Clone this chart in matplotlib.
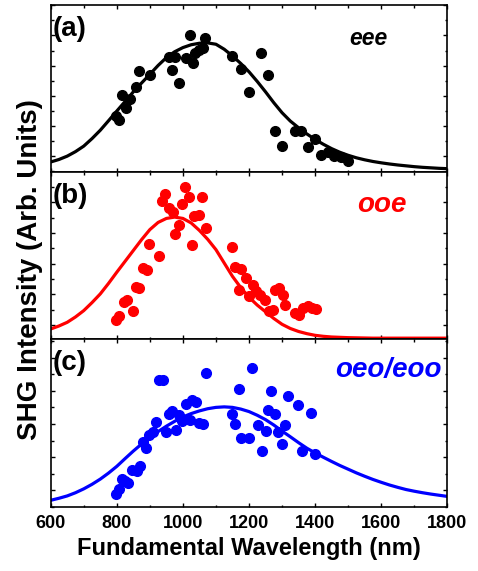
import matplotlib
matplotlib.use("Agg")
import matplotlib.pyplot as plt
from matplotlib.ticker import MultipleLocator

plt.rcParams['font.family'] = ['Liberation Sans', 'DejaVu Sans']
plt.rcParams['font.weight'] = 'bold'

# ---------------- data (wavelength in nm, intensity in arb. units, 0..1 of panel) ----
# panel (a) eee
wl_a = [799, 807, 827, 817, 840, 858, 868, 901, 959, 977, 967, 989, 1010, 1020,
        1030, 1038, 1050, 1060, 1068, 1149, 1177, 1200, 1237, 1259, 1278, 1301,
        1338, 1358, 1378, 1399, 1419, 1439, 1458, 1478, 1500]
int_a = [0.337, 0.313, 0.382, 0.462, 0.440, 0.510, 0.602, 0.578, 0.690, 0.687,
         0.612, 0.532, 0.685, 0.821, 0.655, 0.715, 0.731, 0.741, 0.805, 0.693,
         0.614, 0.482, 0.711, 0.582, 0.243, 0.157, 0.243, 0.243, 0.149, 0.197,
         0.104, 0.120, 0.094, 0.088, 0.066]

# panel (b) ooe
wl_b = [799, 807, 822, 832, 848, 858, 868, 878, 890, 898, 929, 937, 947, 957, 969,
        977, 989, 997, 1007, 1018, 1028, 1035, 1048, 1058, 1070, 1149, 1159, 1177,
        1170, 1191, 1200, 1212, 1222, 1232, 1247, 1260, 1272, 1280, 1292, 1302,
        1310, 1338, 1351, 1363, 1378, 1391, 1402]
int_b = [0.115, 0.135, 0.221, 0.235, 0.165, 0.310, 0.306, 0.423, 0.414, 0.567,
         0.497, 0.829, 0.869, 0.783, 0.759, 0.628, 0.682, 0.809, 0.913, 0.849,
         0.563, 0.738, 0.740, 0.849, 0.664, 0.551, 0.432, 0.418, 0.296, 0.366,
         0.256, 0.326, 0.290, 0.262, 0.235, 0.169, 0.175, 0.296, 0.306, 0.262,
         0.201, 0.155, 0.141, 0.185, 0.195, 0.185, 0.179]

# panel (c) oeo/eoo
wl_c = [799, 807, 815, 826, 833, 846, 860, 870, 878, 888, 898, 910, 918, 929, 941,
        949, 957, 967, 979, 988, 998, 1008, 1020, 1028, 1040, 1048, 1060, 1070,
        1149, 1159, 1169, 1176, 1200, 1208, 1228, 1238, 1250, 1258, 1268, 1280,
        1288, 1300, 1308, 1318, 1348, 1361, 1389, 1399]
int_c = [0.075, 0.105, 0.164, 0.154, 0.144, 0.223, 0.213, 0.243, 0.387, 0.352,
         0.427, 0.447, 0.506, 0.753, 0.753, 0.445, 0.553, 0.573, 0.460, 0.549,
         0.514, 0.613, 0.520, 0.638, 0.623, 0.500, 0.496, 0.800, 0.553, 0.494,
         0.702, 0.411, 0.411, 0.826, 0.490, 0.332, 0.451, 0.579, 0.692, 0.553,
         0.445, 0.375, 0.490, 0.662, 0.609, 0.332, 0.559, 0.318]

# fitted curves, every 25 nm
fit_wl = [600, 625, 650, 675, 700, 725, 750, 775, 800, 825, 850, 875, 900, 925,
          950, 975, 1000, 1025, 1050, 1075, 1100, 1125, 1150, 1175, 1200, 1225,
          1250, 1275, 1300, 1325, 1350, 1375, 1400, 1425, 1450, 1475, 1500, 1525,
          1550, 1575, 1600, 1625, 1650, 1675, 1700, 1725, 1750, 1775, 1800]
fit_a = [0.060, 0.075, 0.095, 0.122, 0.155, 0.200, 0.250, 0.307, 0.365, 0.422,
         0.480, 0.533, 0.585, 0.638, 0.685, 0.720, 0.745, 0.762, 0.771, 0.773,
         0.765, 0.735, 0.695, 0.650, 0.600, 0.542, 0.480, 0.415, 0.355, 0.305,
         0.265, 0.228, 0.195, 0.166, 0.140, 0.118, 0.100, 0.085, 0.073, 0.063,
         0.055, 0.048, 0.042, 0.037, 0.032, 0.028, 0.025, 0.022, 0.020]
fit_b = [0.060, 0.078, 0.100, 0.132, 0.170, 0.218, 0.270, 0.333, 0.400, 0.465,
         0.530, 0.595, 0.655, 0.698, 0.722, 0.730, 0.722, 0.695, 0.650, 0.597,
         0.535, 0.455, 0.375, 0.308, 0.250, 0.203, 0.163, 0.123, 0.088, 0.063,
         0.045, 0.032, 0.022, 0.016, 0.012, 0.010, 0.008, 0.007, 0.006, 0.005,
         0.005, 0.005, 0.005, 0.005, 0.005, 0.005, 0.005, 0.005, 0.005]
fit_c = [0.040, 0.052, 0.066, 0.085, 0.108, 0.135, 0.166, 0.202, 0.242, 0.288,
         0.333, 0.375, 0.414, 0.449, 0.481, 0.510, 0.536, 0.556, 0.572, 0.585,
         0.593, 0.596, 0.593, 0.583, 0.568, 0.546, 0.520, 0.488, 0.452, 0.418,
         0.383, 0.350, 0.322, 0.296, 0.271, 0.247, 0.225, 0.203, 0.183, 0.164,
         0.147, 0.131, 0.117, 0.104, 0.094, 0.085, 0.077, 0.070, 0.063]

panel_labels = ['(a)', '(b)', '(c)']
mode_labels = ['eee', 'ooe', 'oeo/eoo']
colors = ['black', '#ff0000', '#0000ff']
xticks = [600, 800, 1000, 1200, 1400, 1600, 1800]

# ---------------- figure ----------------
W, H = 478, 571
fig = plt.figure(figsize=(W / 100, H / 100), dpi=100)

left = 50.7 / W
width = (447.3 - 50.7) / W
bounds_px = [(5, 172), (172, 339), (339, 507)]
# minor tick spacing / offset (fraction of panel) per panel
tick_info = [(0.0905, 0.0035), (0.0917, -0.0072), (0.0988, 0.0)]
mode_size = [16.5, 20, 20]
mode_x = [388, 407, 442]
mode_base = [45, 212, 377]

wls = [wl_a, wl_b, wl_c]
ints = [int_a, int_b, int_c]
fits = [fit_a, fit_b, fit_c]

for i, (t, b) in enumerate(bounds_px):
    ax = fig.add_axes([left, 1 - b / H, width, (b - t) / H])
    ax.plot(wls[i], ints[i], 'o', color=colors[i], ms=7, mec=colors[i], zorder=3)
    ax.plot(fit_wl, fits[i], '-', color=colors[i], lw=2.3, zorder=2,
            solid_joinstyle='round')
    ax.set_xlim(600, 1800)
    ax.set_ylim(0, 1)
    ax.set_xticks(xticks)
    ax.xaxis.set_minor_locator(MultipleLocator(100))
    sp, off = tick_info[i]
    ax.yaxis.set_major_locator(MultipleLocator(2 * sp, offset=off + sp))
    ax.yaxis.set_minor_locator(MultipleLocator(sp, offset=off))
    ax.tick_params(which='both', direction='in', top=True, right=True, width=1.0)
    ax.tick_params(which='major', length=3.2)
    ax.tick_params(which='minor', length=1.8)
    ax.set_yticklabels([])
    for s in ax.spines.values():
        s.set_linewidth(1.2)
    if i < 2:
        ax.set_xticklabels([])
    else:
        ax.tick_params(axis='x', labelsize=13, pad=5.5)
        for lab in ax.get_xticklabels():
            lab.set_fontweight('bold')
        ax.set_xlabel('Fundamental Wavelength (nm)', fontsize=17,
                      fontweight='bold', labelpad=4)

    fig.text(53 / W, 1 - (t + 11) / H, panel_labels[i], fontsize=20,
             fontweight='bold', ha='left', va='top', color='black')
    fig.text(mode_x[i] / W, 1 - mode_base[i] / H, mode_labels[i],
             fontsize=mode_size[i], fontweight='bold', style='italic',
             ha='right', va='baseline', color=colors[i])

fig.text(30 / W, 1 - 270 / H, 'SHG Intensity (Arb. Units)', rotation=90,
         fontsize=20, fontweight='bold', ha='center', va='center')

fig.savefig('out.png', dpi=100)
